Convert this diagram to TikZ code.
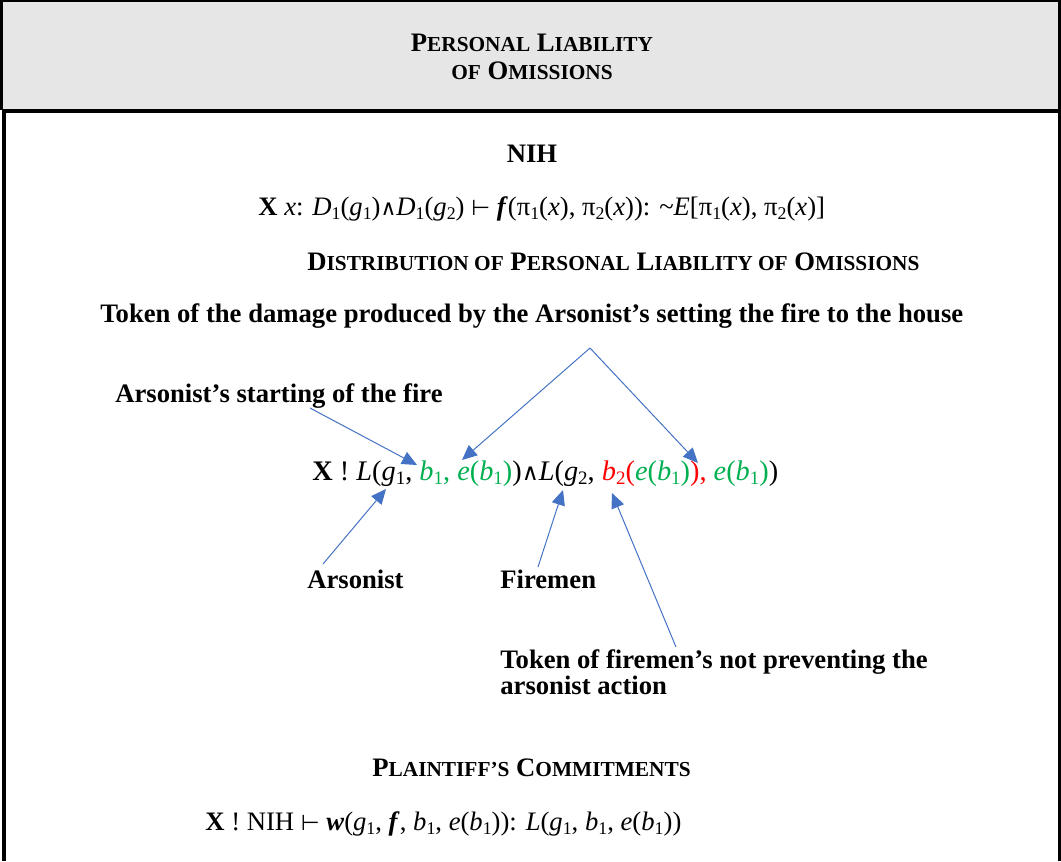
\documentclass[tikz,border=0pt]{standalone}
\usepackage{fontspec}
\setmainfont{Liberation Serif}
\newfontfamily\symf{DejaVu Sans}
\usetikzlibrary{arrows.meta}
\definecolor{hdr}{HTML}{E6E6E6}
\definecolor{grn}{HTML}{00B050}
\definecolor{rd}{HTML}{FF0000}
\definecolor{blu}{HTML}{4472C4}
\newcommand{\smc}[1]{{\fontsize{12.8}{14}\selectfont #1}}
\newcommand{\sbs}[1]{\raisebox{-0.35ex}{\fontsize{10.7}{12}\selectfont #1}}
\newcommand{\sbb}[1]{\raisebox{-0.35ex}{\fontsize{11.4}{12}\selectfont #1}}
\newcommand{\wdg}{{\symf\fontsize{13}{15}\selectfont ∧}}
\newcommand{\wdgb}{{\symf\fontsize{14}{15}\selectfont ∧}}
\newcommand{\tstile}{{\symf\fontsize{13}{15}\selectfont ⊢}}
\begin{document}
\begin{tikzpicture}[x=0.6pt,y=-0.6pt,
  txt/.style={inner sep=0pt, font=\fontsize{16}{19}\selectfont},
  bt/.style={inner sep=0pt, font=\fontsize{16}{19}\selectfont\bfseries},
  arr/.style={blu, line width=0.6pt, -{Triangle[length=9pt,width=8pt]}}]
\useasboundingbox (0,0) rectangle (1061,861);
% header box
\fill[hdr] (2,1) rectangle (1059,110);
\draw[line width=1.2pt] (0,1) -- (1061,1);
\draw[line width=1.8pt] (1.5,0) -- (1.5,110);
\draw[line width=1.8pt] (1059.5,0) -- (1059.5,861);
\draw[line width=2.4pt] (2,111) -- (1061,111);
\draw[line width=2.4pt] (4,111) -- (4,861);
% header title
\node[bt, anchor=base] (t1) at (532,51) {P\smc{ERSONAL} L\smc{IABILITY}};
\node[bt, anchor=base] (t2) at (532,79) {\smc{OF} O\smc{MISSIONS}};
% NIH
\node[bt, anchor=base] (nih) at (532,162) {NIH};
\node[txt, anchor=base west] (f1) at (258,215) {\textbf{X} \textit{x}: \textit{D}\sbs{1}(\textit{g}\sbs{1})\wdg\textit{D}\sbs{1}(\textit{g}\sbs{2}) \tstile\ \textbf{\textit{f}}(π\sbs{1}(\textit{x}), π\sbs{2}(\textit{x})): \textasciitilde\textit{E}[π\sbs{1}(\textit{x}), π\sbs{2}(\textit{x})]};
\node[bt, anchor=base west] (dist) at (307,270) {D\smc{ISTRIBUTION OF} P\smc{ERSONAL} L\smc{IABILITY OF} O\smc{MISSIONS}};
\node[bt, anchor=base west] (tok) at (100,322) {Token of the damage produced by the Arsonist’s setting the fire to the house};
\node[bt, anchor=base west] (start) at (115,402) {Arsonist’s starting of the fire};
\node[inner sep=0pt, font=\fontsize{17}{20}\selectfont, anchor=base west] (main) at (312,480) {\textbf{X} ! \textit{L}(\textit{g}\sbb{1}, \textcolor{grn}{\textit{b}\sbb{1}, \textit{e}(\textit{b}\sbb{1})})\wdgb\textit{L}(\textit{g}\sbb{2}, \textcolor{rd}{\textit{b}\sbb{2}(}\textcolor{grn}{\textit{e}(\textit{b}\sbb{1})}\textcolor{rd}{),} \textcolor{grn}{\textit{e}(\textit{b}\sbb{1})})};
\node[bt, anchor=base west] (ars) at (307,588) {Arsonist};
\node[bt, anchor=base west] (fire) at (500,588) {Firemen};
\node[bt, anchor=base west] (tokf1) at (500,668) {Token of firemen’s not preventing the};
\node[bt, anchor=base west] (tokf2) at (500,694) {arsonist action};
\node[bt, anchor=base west] (plc) at (372,776) {P\smc{LAINTIFF’S} C\smc{OMMITMENTS}};
\node[txt, anchor=base west] (f2) at (205,830) {\textbf{X} ! NIH \tstile\ \textbf{\textit{w}}(\textit{g}\sbs{1}, \textbf{\textit{f}}, \textit{b}\sbs{1}, \textit{e}(\textit{b}\sbs{1})): \textit{L}(\textit{g}\sbs{1}, \textit{b}\sbs{1}, \textit{e}(\textit{b}\sbs{1}))};
% arrow coordinates
\coordinate (apex) at (590,348);
\coordinate (tipE1) at (462,460);
\coordinate (tipE2) at (698,463);
\coordinate (startS) at (310,408);
\coordinate (tipB1) at (417,465);
\coordinate (arsS) at (323,564);
\coordinate (tipG1) at (386,489);
\coordinate (fireS) at (538,567);
\coordinate (tipG2) at (563,490);
\coordinate (tokS) at (676,647);
\coordinate (tipB2) at (612,493);
\draw[arr] (apex) -- (tipE1);
\draw[arr] (apex) -- (tipE2);
\draw[arr] (startS) -- (tipB1);
\draw[arr] (arsS) -- (tipG1);
\draw[arr] (fireS) -- (tipG2);
\draw[arr] (tokS) -- (tipB2);
\end{tikzpicture}
\end{document}
